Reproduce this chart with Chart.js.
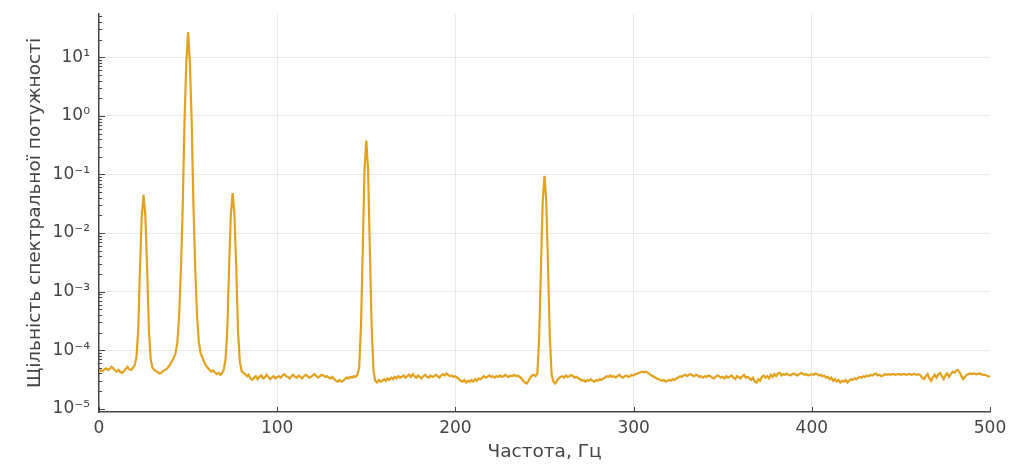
<!DOCTYPE html>
<html>
<head>
<meta charset="utf-8">
<script src="https://cdn.jsdelivr.net/npm/chart.js@4"></script>
<style>
  html, body { margin: 0; padding: 0; background: #fff; }
</style>
</head>
<body>
<canvas id="graph" width="1013" height="473"></canvas>
<script>
// power spectral density, 1 Hz bins
const psd0to100 = [
  4.3e-5, 4.5e-5, 4.4e-5, 4.7e-5, 4.9e-5, 4.6e-5, 4.8e-5, 5.2e-5, 4.9e-5, 4.5e-5,
  4.3e-5, 4.6e-5, 4.2e-5, 4.1e-5, 4.4e-5, 4.8e-5, 5.2e-5, 4.7e-5, 4.6e-5, 5.0e-5,
  5.5e-5, 7.5e-5, 2.2e-4, 2.5e-3, 2e-2, 4.5e-2, 2e-2, 2.5e-3, 2.2e-4, 7e-5,
  5e-5, 4.6e-5, 4.4e-5, 4.2e-5, 4.0e-5, 4.1e-5, 4.4e-5, 4.6e-5, 4.8e-5, 5.2e-5,
  5.8e-5, 6.5e-5, 7.5e-5, 9e-5, 1.4e-4, 4e-4, 2.5e-3, 3e-2, 0.8, 8,
  27, 8, 0.8, 3e-2, 2.5e-3, 4e-4, 1.4e-4, 9e-5, 7.5e-5, 6.3e-5,
  5.5e-5, 5e-5, 4.6e-5, 4.3e-5, 4.5e-5, 4.2e-5, 3.9e-5, 4.1e-5, 3.8e-5, 4.0e-5,
  4.6e-5, 7e-5, 2.2e-4, 2.6e-3, 2.1e-2, 4.8e-2, 2.1e-2, 2.6e-3, 2.2e-4, 6.5e-5,
  4.4e-5, 4.1e-5, 3.9e-5, 3.6e-5, 3.8e-5, 3.3e-5, 3.1e-5, 3.4e-5, 3.6e-5, 3.2e-5,
  3.5e-5, 3.7e-5, 3.3e-5, 3.4e-5, 3.8e-5, 3.5e-5, 3.2e-5, 3.4e-5, 3.6e-5, 3.3e-5, 3.5e-5
];
const psd101to200 = [
  3.6e-5, 3.4e-5, 3.7e-5, 3.9e-5, 3.6e-5, 3.5e-5, 3.3e-5, 3.6e-5, 3.8e-5, 3.5e-5,
  3.4e-5, 3.7e-5, 3.5e-5, 3.3e-5, 3.6e-5, 3.8e-5, 3.6e-5, 3.4e-5, 3.5e-5, 3.7e-5,
  3.9e-5, 3.6e-5, 3.4e-5, 3.6e-5, 3.8e-5, 3.7e-5, 3.5e-5, 3.6e-5, 3.4e-5, 3.3e-5,
  3.5e-5, 3.2e-5, 3.0e-5, 2.9e-5, 3.1e-5, 2.9e-5, 3.0e-5, 3.2e-5, 3.4e-5, 3.3e-5,
  3.5e-5, 3.4e-5, 3.6e-5, 3.5e-5, 3.8e-5, 5e-5, 2.5e-4, 5e-3, 0.12, 0.38,
  0.12, 5e-3, 2.5e-4, 4.5e-5, 3.0e-5, 2.8e-5, 3.1e-5, 2.9e-5, 3.0e-5, 3.2e-5,
  3.0e-5, 3.3e-5, 3.1e-5, 3.4e-5, 3.2e-5, 3.5e-5, 3.3e-5, 3.6e-5, 3.4e-5, 3.5e-5,
  3.7e-5, 3.4e-5, 3.6e-5, 3.8e-5, 3.5e-5, 3.9e-5, 3.6e-5, 3.4e-5, 3.7e-5, 3.5e-5,
  3.3e-5, 3.6e-5, 3.8e-5, 3.5e-5, 3.4e-5, 3.7e-5, 3.5e-5, 3.6e-5, 3.8e-5, 3.6e-5,
  3.4e-5, 3.7e-5, 3.9e-5, 3.7e-5, 4.0e-5, 3.8e-5, 3.6e-5, 3.7e-5, 3.5e-5, 3.6e-5
];
const psd201to300 = [
  3.4e-5, 3.2e-5, 3.0e-5, 2.9e-5, 3.1e-5, 2.8e-5, 3.0e-5, 2.9e-5, 3.1e-5, 2.9e-5,
  3.2e-5, 3.0e-5, 3.3e-5, 3.2e-5, 3.4e-5, 3.6e-5, 3.4e-5, 3.5e-5, 3.7e-5, 3.5e-5,
  3.6e-5, 3.4e-5, 3.6e-5, 3.5e-5, 3.7e-5, 3.5e-5, 3.6e-5, 3.8e-5, 3.6e-5, 3.5e-5,
  3.7e-5, 3.6e-5, 3.8e-5, 3.6e-5, 3.7e-5, 3.5e-5, 3.3e-5, 3.0e-5, 2.8e-5, 2.7e-5,
  3.0e-5, 3.4e-5, 3.7e-5, 3.8e-5, 3.6e-5, 4e-5, 1.6e-4, 2.5e-3, 3.5e-2, 9.5e-2,
  3.5e-2, 2.5e-3, 1.6e-4, 3.8e-5, 2.9e-5, 2.7e-5, 3.0e-5, 3.3e-5, 3.5e-5, 3.6e-5,
  3.4e-5, 3.7e-5, 3.5e-5, 3.6e-5, 3.8e-5, 3.6e-5, 3.4e-5, 3.5e-5, 3.3e-5, 3.2e-5,
  3.0e-5, 3.1e-5, 2.9e-5, 3.1e-5, 3.0e-5, 3.2e-5, 3.0e-5, 2.9e-5, 3.1e-5, 3.0e-5,
  3.2e-5, 3.1e-5, 3.3e-5, 3.4e-5, 3.6e-5, 3.5e-5, 3.7e-5, 3.5e-5, 3.6e-5, 3.4e-5,
  3.6e-5, 3.8e-5, 3.5e-5, 3.4e-5, 3.6e-5, 3.7e-5, 3.5e-5, 3.6e-5, 3.8e-5, 3.7e-5
];
const psd301to400 = [
  3.9e-5, 4.0e-5, 4.1e-5, 4.2e-5, 4.3e-5, 4.2e-5, 4.3e-5, 4.1e-5, 3.9e-5, 3.7e-5,
  3.6e-5, 3.4e-5, 3.3e-5, 3.2e-5, 3.1e-5, 3.0e-5, 3.1e-5, 2.9e-5, 3.0e-5, 3.1e-5,
  3.0e-5, 3.2e-5, 3.1e-5, 3.3e-5, 3.4e-5, 3.6e-5, 3.5e-5, 3.7e-5, 3.8e-5, 3.6e-5,
  3.8e-5, 3.9e-5, 3.7e-5, 3.6e-5, 3.8e-5, 3.7e-5, 3.5e-5, 3.6e-5, 3.4e-5, 3.6e-5,
  3.5e-5, 3.7e-5, 3.6e-5, 3.4e-5, 3.3e-5, 3.5e-5, 3.7e-5, 3.6e-5, 3.4e-5, 3.5e-5,
  3.3e-5, 3.6e-5, 3.4e-5, 3.5e-5, 3.7e-5, 3.4e-5, 3.2e-5, 3.6e-5, 3.5e-5, 3.3e-5,
  3.6e-5, 3.8e-5, 3.4e-5, 3.5e-5, 3.3e-5, 3.1e-5, 3.4e-5, 2.9e-5, 2.8e-5, 3.2e-5,
  3.0e-5, 3.5e-5, 3.7e-5, 3.4e-5, 3.6e-5, 3.3e-5, 3.8e-5, 3.5e-5, 3.9e-5, 3.6e-5,
  4.0e-5, 4.1e-5, 3.7e-5, 3.9e-5, 3.8e-5, 4.0e-5, 3.8e-5, 3.7e-5, 3.9e-5, 4.0e-5,
  3.8e-5, 3.7e-5, 3.9e-5, 4.1e-5, 3.9e-5, 3.8e-5, 3.9e-5, 3.7e-5, 3.8e-5, 3.9e-5
];
const psd401to500 = [
  3.8e-5, 4.0e-5, 3.9e-5, 3.7e-5, 3.8e-5, 3.6e-5, 3.7e-5, 3.4e-5, 3.5e-5, 3.2e-5,
  3.4e-5, 3.0e-5, 3.2e-5, 2.9e-5, 3.1e-5, 2.8e-5, 3.0e-5, 2.9e-5, 3.1e-5, 2.8e-5,
  3.0e-5, 3.2e-5, 3.1e-5, 3.3e-5, 3.2e-5, 3.4e-5, 3.5e-5, 3.4e-5, 3.6e-5, 3.5e-5,
  3.7e-5, 3.6e-5, 3.8e-5, 3.7e-5, 3.9e-5, 4.0e-5, 3.7e-5, 3.8e-5, 3.6e-5, 3.7e-5,
  3.9e-5, 3.8e-5, 3.9e-5, 3.8e-5, 3.9e-5, 3.9e-5, 3.8e-5, 3.9e-5, 3.9e-5, 3.8e-5,
  3.9e-5, 3.9e-5, 3.8e-5, 3.9e-5, 3.9e-5, 3.8e-5, 3.9e-5, 3.9e-5, 3.8e-5, 3.9e-5,
  3.7e-5, 3.4e-5, 3.2e-5, 3.6e-5, 3.9e-5, 3.3e-5, 3.0e-5, 3.5e-5, 3.8e-5, 3.4e-5,
  3.9e-5, 4.1e-5, 3.6e-5, 3.2e-5, 3.7e-5, 4.0e-5, 3.5e-5, 3.9e-5, 4.3e-5, 4.1e-5,
  4.5e-5, 4.6e-5, 4.2e-5, 3.6e-5, 3.2e-5, 3.5e-5, 3.8e-5, 3.9e-5, 4.0e-5, 3.9e-5,
  4.0e-5, 3.9e-5, 3.9e-5, 4.0e-5, 3.9e-5, 3.8e-5, 3.8e-5, 3.7e-5, 3.6e-5, 3.5e-5
];

const freqStep = 1; // Hz per bin
const xTicks = [0, 100, 200, 300, 400, 500];
const yDecades = [1e-5, 1e-4, 1e-3, 1e-2, 1e-1, 1e0, 1e1];
const yTickLabels = ["10⁻⁵", "10⁻⁴", "10⁻³", "10⁻²", "10⁻¹", "10⁰", "10¹"];

const psd = [].concat(psd0to100, psd101to200, psd201to300, psd301to400, psd401to500);
const points = psd.map((v, i) => ({ x: i * freqStep, y: v }));

const axisColor = "#444";
const gridColor = "#e9e9e9";
const textColor = "#444";
const fontFamily = "'DejaVu Sans', sans-serif";

// GR style ticks pointing into the plot
const inwardTicks = {
  id: "inwardTicks",
  afterDraw(chart) {
    const { ctx, chartArea, scales: { x, y } } = chart;
    ctx.save();
    ctx.strokeStyle = axisColor;
    ctx.lineWidth = 1;
    ctx.beginPath();
    xTicks.forEach((v) => {
      const px = Math.round(x.getPixelForValue(v)) + 0.5;
      ctx.moveTo(px, chartArea.bottom);
      ctx.lineTo(px, chartArea.bottom - 5);
    });
    for (let d = -6; d <= 1; d++) {
      for (let m = 1; m <= 9; m++) {
        const v = m * Math.pow(10, d);
        if (v < y.min || v > y.max) continue;
        const py = Math.round(y.getPixelForValue(v)) + 0.5;
        ctx.moveTo(chartArea.left, py);
        ctx.lineTo(chartArea.left + (m === 1 ? 6 : 3), py);
      }
    }
    ctx.stroke();
    ctx.restore();
  },
};

new Chart(document.getElementById("graph"), {
  type: "line",
  data: {
    datasets: [
      {
        data: points,
        borderColor: "#e3a11d",
        borderWidth: 2.2,
        pointRadius: 0,
        tension: 0,
        fill: false,
      },
    ],
  },
  options: {
    responsive: false,
    animation: false,
    layout: { padding: { top: 14, right: 23, left: 0, bottom: 0 } },
    plugins: { legend: { display: false }, tooltip: { enabled: false } },
    scales: {
      x: {
        type: "linear",
        min: 0,
        max: 500,
        afterBuildTicks: (s) => { s.ticks = xTicks.map((v) => ({ value: v })); },
        afterFit: (s) => { s.height = 61; },
        grid: {
          color: (c) => (c.tick && (c.tick.value === 0 || c.tick.value === 500) ? "transparent" : gridColor),
          lineWidth: 1,
          drawTicks: false,
        },
        border: { color: axisColor, width: 1.5 },
        ticks: {
          padding: 6,
          color: textColor,
          font: { family: fontFamily, size: 17 },
          maxRotation: 0,
        },
        title: {
          display: true,
          text: "Частота, Гц",
          color: textColor,
          font: { family: fontFamily, size: 18.5 },
          padding: { top: 0, bottom: 10 },
        },
      },
      y: {
        type: "logarithmic",
        min: 8.8e-6,
        max: 55,
        afterBuildTicks: (s) => { s.ticks = yDecades.map((v) => ({ value: v })); },
        afterFit: (s) => {
          s.width = 99;
          s.paddingTop = 0;
          s.paddingBottom = 0;
        },
        grid: {
          color: (c) => (c.tick && c.tick.value === 1e-5 ? "transparent" : gridColor),
          lineWidth: 1,
          drawTicks: false,
        },
        border: { color: axisColor, width: 1.5 },
        ticks: {
          padding: 9,
          color: textColor,
          font: { family: fontFamily, size: 17 },
          callback: (value) => yTickLabels[Math.round(Math.log10(value)) + 5],
        },
        title: {
          display: true,
          text: "Щільність спектральної потужності",
          color: textColor,
          font: { family: fontFamily, size: 18.5 },
          padding: { top: 24, bottom: 0 },
        },
      },
    },
  },
  plugins: [inwardTicks],
});
</script>
</body>
</html>
